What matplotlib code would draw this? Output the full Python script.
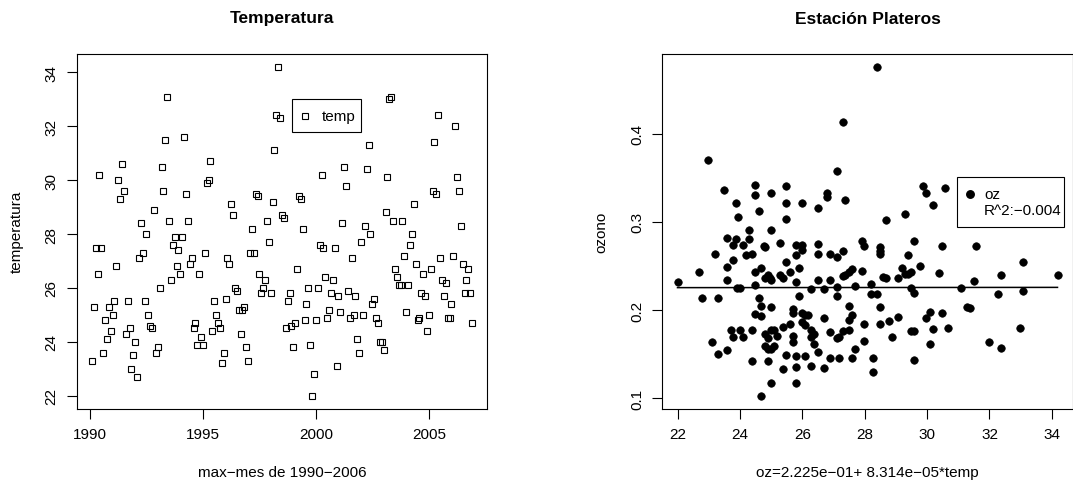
import matplotlib
matplotlib.use("Agg")
import matplotlib.pyplot as plt
import numpy as np
from matplotlib.patches import Rectangle
from matplotlib.lines import Line2D

plt.rcParams['font.family'] = ['Liberation Sans', 'DejaVu Sans']

# ---------------- data ----------------
# monthly maximum temperature, 1990 onwards
temp = [
    23.3, 25.3, 27.5, 26.5, 30.2, 27.5, 23.6, 24.8, 24.1, 25.3,
    24.4, 25.0, 25.5, 26.8, 30.0, 29.3, 30.6, 29.6, 24.3, 25.5,
    24.5, 23.0, 23.5, 24.0, 22.7, 27.1, 28.4, 27.3, 25.5, 28.0,
    25.0, 24.6, 24.5, 28.9, 23.6, 23.8, 26.0, 30.5, 29.6, 31.5,
    33.1, 28.5, 26.3, 27.6, 27.9, 26.8, 27.4, 26.5, 27.9, 31.6,
    29.5, 28.5, 26.9, 27.1, 24.5, 24.7, 23.9, 26.5, 24.2, 23.9,
    27.3, 29.9, 30.0, 30.7, 24.4, 25.5, 25.0, 24.7, 24.5, 23.2,
    23.6, 25.6, 27.1, 26.9, 29.1, 28.7, 26.0, 25.9, 25.2, 24.3,
    25.2, 25.3, 23.8, 23.3, 27.3, 28.2, 27.3, 29.5, 29.4, 26.5,
    25.8, 26.0, 26.3, 28.5, 27.7, 25.8, 29.2, 31.1, 32.4, 34.2,
    32.3, 28.7, 28.6, 24.5, 25.5, 25.8, 24.6, 23.8, 24.7, 26.7,
    29.4, 29.3, 28.2, 24.8, 25.4, 26.0, 23.9, 22.0, 22.8, 24.8,
    26.0, 27.6, 30.2, 27.5, 26.4, 24.9, 25.2, 25.8, 26.3, 27.5,
    23.1, 25.7, 25.1, 28.4, 30.5, 29.8, 25.9, 24.9, 27.1, 25.0,
    25.7, 24.1, 23.6, 27.7, 25.0, 28.3, 30.4, 31.3, 28.0, 25.4,
    25.6, 24.9, 24.7, 24.0, 24.0, 23.7, 28.8, 30.1, 33.0, 33.1,
    28.5, 26.7, 26.4, 26.1, 26.1, 28.5, 27.2, 25.1, 26.1, 27.6,
    28.0, 29.1, 26.9, 24.8, 24.9, 25.8, 26.5, 25.7, 24.4, 25.0,
    26.7, 29.6, 31.4, 29.5, 32.4, 27.1, 26.3, 25.7, 26.2, 24.9,
    24.9, 25.4, 27.2, 32.0, 30.1, 29.6, 28.3, 26.9, 25.8, 26.3,
    26.7, 25.8, 24.7,
]
start_year = 1990

# Estacion Plateros: temperature vs ozone
temp_oz = [
    22.00, 22.68, 22.79, 22.99, 23.10, 23.21, 23.29, 23.29, 23.50, 23.59,
    23.59, 23.59, 23.59, 23.70, 23.79, 23.79, 23.79, 23.89, 23.89, 23.94,
    23.90, 24.00, 24.00, 24.09, 24.09, 24.20, 24.30, 24.30, 24.39, 24.39,
    24.39, 24.49, 24.49, 24.49, 24.49, 24.49, 24.60, 24.60, 24.69, 24.69,
    24.69, 24.69, 24.76, 24.80, 24.80, 24.90, 24.95, 25.00, 24.80, 24.90,
    24.80, 24.90, 25.00, 25.10, 25.00, 25.10, 25.19, 24.90, 25.00, 25.00,
    25.00, 25.00, 25.29, 25.29, 25.39, 25.39, 25.39, 25.49, 25.49, 25.49,
    25.49, 25.49, 25.59, 25.59, 25.70, 25.70, 25.70, 25.70, 25.79, 25.98,
    25.98, 25.79, 25.79, 25.79, 25.79, 25.79, 25.89, 25.89, 25.98, 25.98,
    26.08, 26.18, 25.98, 26.08, 26.08, 26.28, 26.38, 26.28, 26.38, 26.28,
    26.28, 26.49, 26.49, 26.49, 26.49, 26.49, 26.69, 26.69, 26.69, 26.79,
    26.79, 26.88, 26.88, 26.88, 26.88, 27.10, 27.10, 27.10, 27.10, 27.10,
    27.19, 27.19, 27.29, 27.29, 27.29, 27.38, 27.49, 27.59, 27.29, 27.49,
    27.38, 27.49, 27.59, 27.49, 27.69, 27.69, 27.59,
    27.91, 27.98, 27.91, 27.98, 27.98, 28.19, 28.19, 28.28, 28.28, 28.38,
    28.38, 28.48, 28.48, 28.48, 28.48, 28.48, 28.58, 28.68, 28.68, 28.78,
    28.88, 29.08, 29.08, 29.18, 29.28, 29.29, 29.38, 29.49, 29.38, 29.49,
    29.57, 29.49, 29.57, 29.57, 29.57, 29.78, 29.87, 29.98, 29.98, 30.08,
    30.08, 30.18, 30.18, 30.38, 30.47, 30.47, 30.58, 30.68, 31.08, 31.27,
    31.38, 31.49, 31.58, 31.98, 32.28, 32.38, 32.38, 32.98, 33.08, 33.08,
    34.18,
]
ozone = [
    0.2325, 0.2435, 0.2136, 0.3703, 0.1642, 0.2642, 0.2140, 0.1502, 0.3363, 0.2820,
    0.2491, 0.2344, 0.1544, 0.1778, 0.2740, 0.2570, 0.1691, 0.3212, 0.2812, 0.3050,
    0.2253, 0.2253, 0.1778, 0.2740, 0.1691, 0.2623, 0.2910, 0.2804, 0.2642, 0.1778,
    0.1423, 0.3420, 0.3303, 0.2438, 0.2287, 0.1959, 0.3129, 0.2133, 0.2480, 0.2046,
    0.1936, 0.1030, 0.2729, 0.2721, 0.2367, 0.2404, 0.2367, 0.2344, 0.1725, 0.1683,
    0.1596, 0.1559, 0.1559, 0.1596, 0.1778, 0.1778, 0.1713, 0.1423, 0.3333, 0.2910,
    0.2034, 0.1174, 0.2759, 0.2404, 0.2367, 0.1815, 0.1332, 0.3405, 0.3212, 0.3031,
    0.2548, 0.1491, 0.2435, 0.1838, 0.2019, 0.1966, 0.1713, 0.1642, 0.2740, 0.2740,
    0.2684, 0.2623, 0.2321, 0.1483, 0.1359, 0.1181, 0.2480, 0.2163, 0.3212, 0.1966,
    0.1951, 0.1951, 0.1861, 0.1831, 0.1483, 0.1778, 0.1725, 0.1698, 0.1615, 0.2238,
    0.1370, 0.3163, 0.2752, 0.2635, 0.2344, 0.1521, 0.2238, 0.1906, 0.1347, 0.3325,
    0.3280, 0.2631, 0.2344, 0.1755, 0.1461, 0.3571, 0.2597, 0.2265, 0.2163, 0.1680,
    0.1698, 0.1461, 0.4137, 0.2665, 0.2389, 0.2397, 0.2427, 0.2465, 0.1763, 0.1778,
    0.3250, 0.2046, 0.1944, 0.1887, 0.2276, 0.1566, 0.1464,
    0.2786, 0.2729, 0.2446, 0.1842, 0.1646, 0.2302, 0.2189, 0.1464, 0.1298, 0.4756,
    0.2189, 0.2721, 0.2676, 0.2635, 0.2031, 0.1849, 0.2374, 0.2363, 0.3023, 0.1880,
    0.1702, 0.2370, 0.1925, 0.2480, 0.3091, 0.2408, 0.2408, 0.2427, 0.2620, 0.2257,
    0.2200, 0.1770, 0.1759, 0.2789, 0.1438, 0.2502, 0.3412, 0.3322, 0.1910, 0.1982,
    0.1612, 0.3193, 0.1785, 0.2423, 0.2729, 0.1963, 0.3382, 0.1804, 0.2246, 0.2031,
    0.2023, 0.2333, 0.2729, 0.1642, 0.2189, 0.2404, 0.1570, 0.1804, 0.2548, 0.2219,
    0.2404,
]

x_ticks_left = [1990, 1995, 2000, 2005]
y_ticks_left = [22, 24, 26, 28, 30, 32, 34]
x_ticks_right = [22, 24, 26, 28, 30, 32, 34]
y_ticks_right = [0.1, 0.2, 0.3, 0.4]

title_left = "Temperatura"
title_right = "Estación Plateros"
xlabel_left = "max\u2212mes de 1990\u22122006"
ylabel_left = "temperatura"
xlabel_right = "oz=2.225e\u221201+ 8.314e\u221205*temp"
ylabel_right = "ozono"
legend_left = "temp"
legend_right = ["oz", "R^2:\u22120.004"]

# ---------------- figure ----------------
W, H = 1073, 485
fig = plt.figure(figsize=(W / 100, H / 100), dpi=100)


def fx(x):
    return x / W


def fy(y):
    return 1 - y / H


def rlim(v):
    lo, hi = float(np.min(v)), float(np.max(v))
    r = hi - lo
    return lo - 0.04 * r, hi + 0.04 * r


TICK_FS = 11
top, bot = 54.7, 410.0
axL = fig.add_axes([fx(76.7), fy(bot), (487.3 - 76.7) / W, (bot - top) / H])
axR = fig.add_axes([fx(662.3), fy(bot), (1072.7 - 662.3) / W, (bot - top) / H])

for ax in (axL, axR):
    for s in ax.spines.values():
        s.set_linewidth(0.8)
        s.set_color('black')
    ax.tick_params(direction='out', length=7.2, width=0.8, labelsize=TICK_FS,
                   colors='black')
    ax.tick_params(axis='x', pad=5.5)
    ax.tick_params(axis='y', pad=6.0, labelrotation=90)
    for lab in ax.get_yticklabels():
        lab.set_verticalalignment('center')

# left: time series
t = np.asarray(temp)
years = start_year + (np.arange(len(t)) + 1) / 12.0
axL.plot(years, t, linestyle='none', marker='s', markersize=4.6,
         markerfacecolor='none', markeredgecolor='black', markeredgewidth=0.8)
axL.set_xlim(*rlim(years))
axL.set_ylim(*rlim(t))
axL.set_xticks(x_ticks_left)
axL.set_xticklabels([str(v) for v in x_ticks_left])
axL.set_yticks(y_ticks_left)
axL.set_yticklabels([str(v) for v in y_ticks_left], va='center')

# right: scatter + fitted line
tx = np.asarray(temp_oz)
oz = np.asarray(ozone)
axR.plot(tx, oz, linestyle='none', marker='o', markersize=5.4,
         markerfacecolor='black', markeredgecolor='black', markeredgewidth=0.5)
b, a = np.polyfit(tx, oz, 1)
order = np.argsort(tx)
axR.plot(tx[order], a + b * tx[order], color='black', linewidth=1.1)
axR.set_xlim(*rlim(tx))
axR.set_ylim(*rlim(oz))
axR.set_xticks(x_ticks_right)
axR.set_xticklabels([str(v) for v in x_ticks_right])
axR.set_yticks(y_ticks_right)
axR.set_yticklabels([f"{v:.1f}" for v in y_ticks_right], va='center')

# titles and labels
fig.text(fx(282), fy(19), title_left, ha='center', va='center',
         fontsize=12.5, fontweight='bold')
fig.text(fx(867.5), fy(19), title_right, ha='center', va='center',
         fontsize=12.5, fontweight='bold')
fig.text(fx(282), fy(473), xlabel_left, ha='center', va='center', fontsize=TICK_FS)
fig.text(fx(867.5), fy(473), xlabel_right, ha='center', va='center', fontsize=TICK_FS)
fig.text(fx(17), fy(232), ylabel_left, ha='center', va='center', rotation=90,
         fontsize=TICK_FS)
fig.text(fx(601), fy(232), ylabel_right, ha='center', va='center', rotation=90,
         fontsize=TICK_FS)

# legends (drawn like R's legend boxes)
fig.add_artist(Rectangle((fx(292), fy(133)), (361 - 292) / W, (133 - 100) / H,
                         transform=fig.transFigure, fill=False,
                         edgecolor='black', linewidth=0.8))
fig.add_artist(Line2D([fx(304.5)], [fy(116.5)], transform=fig.transFigure,
                      marker='s', markersize=4.6, markerfacecolor='none',
                      markeredgecolor='black', markeredgewidth=0.8,
                      linestyle='none'))
fig.text(fx(322), fy(116.5), legend_left, ha='left', va='center', fontsize=TICK_FS)

fig.add_artist(Rectangle((fx(957.3), fy(228)), (1064 - 957.3) / W, (228 - 178.3) / H,
                         transform=fig.transFigure, fill=False,
                         edgecolor='black', linewidth=0.8))
fig.add_artist(Line2D([fx(970)], [fy(195)], transform=fig.transFigure,
                      marker='o', markersize=5.4, markerfacecolor='black',
                      markeredgecolor='black', linestyle='none'))
fig.text(fx(984), fy(195), legend_right[0], ha='left', va='center', fontsize=TICK_FS)
fig.text(fx(984), fy(211), legend_right[1], ha='left', va='center', fontsize=TICK_FS)

fig.savefig("out.png", dpi=100, facecolor='white')
